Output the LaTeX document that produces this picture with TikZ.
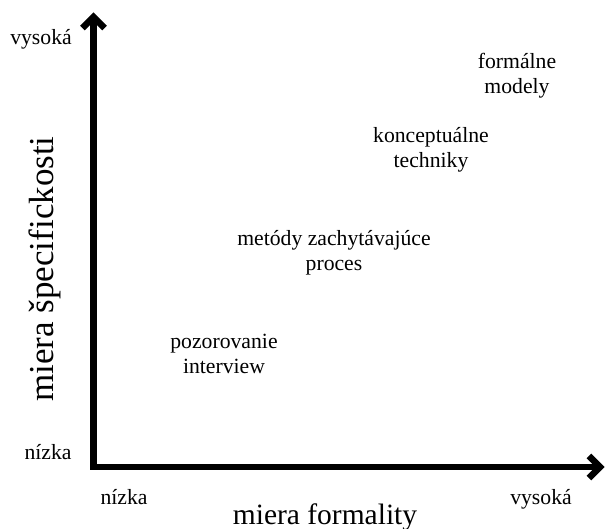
\documentclass[tikz,border=0pt]{standalone}
\usepackage{fontspec}
\setmainfont{Liberation Serif}
\usetikzlibrary{arrows.meta}
\tikzset{
  axisline/.style={line width=6.5pt, line join=miter,
    {Straight Barb[length=11pt, width=22pt]}-{Straight Barb[length=11pt, width=22pt]}},
  lbl/.style={inner sep=0pt, font=\fontsize{21.7}{25}\selectfont},
  item/.style={inner sep=0pt, align=center, font=\fontsize{21.7}{25}\selectfont},
  axtitle/.style={inner sep=0pt, font=\fontsize{29.5}{34}\selectfont},
  vtitle/.style={inner sep=0pt, rotate=90, font=\fontsize{35}{40}\selectfont},
}
\begin{document}
\begin{tikzpicture}[x=1pt, y=-1pt]
\useasboundingbox (0,0) rectangle (608,529);
\coordinate (o) at (93.5,467);
\coordinate (ytip) at (93.5,12.5);
\coordinate (xtip) at (604.5,467);
\draw[axisline] (ytip) -- (o) -- (xtip);

\node[lbl, anchor=base] (yhigh) at (41,45) {vysoká};
\node[lbl, anchor=base] (ylow) at (48,459) {nízka};
\node[lbl, anchor=base] (xlow) at (124,504) {nízka};
\node[lbl, anchor=base] (xhigh) at (541,504) {vysoká};
\node[axtitle, anchor=base] (xtitle) at (325,524) {miera formality};
\node[vtitle] (ytitle) at (45,269) {miera špecifickosti};

\node[item] (formal) at (517,76) {formálne\\modely};
\node[item] (koncept) at (431,150) {konceptuálne\\techniky};
\node[item] (metody) at (334,253) {metódy zachytávajúce\\proces};
\node[item] (pozor) at (224,354) {pozorovanie\\interview};
\end{tikzpicture}
\end{document}
